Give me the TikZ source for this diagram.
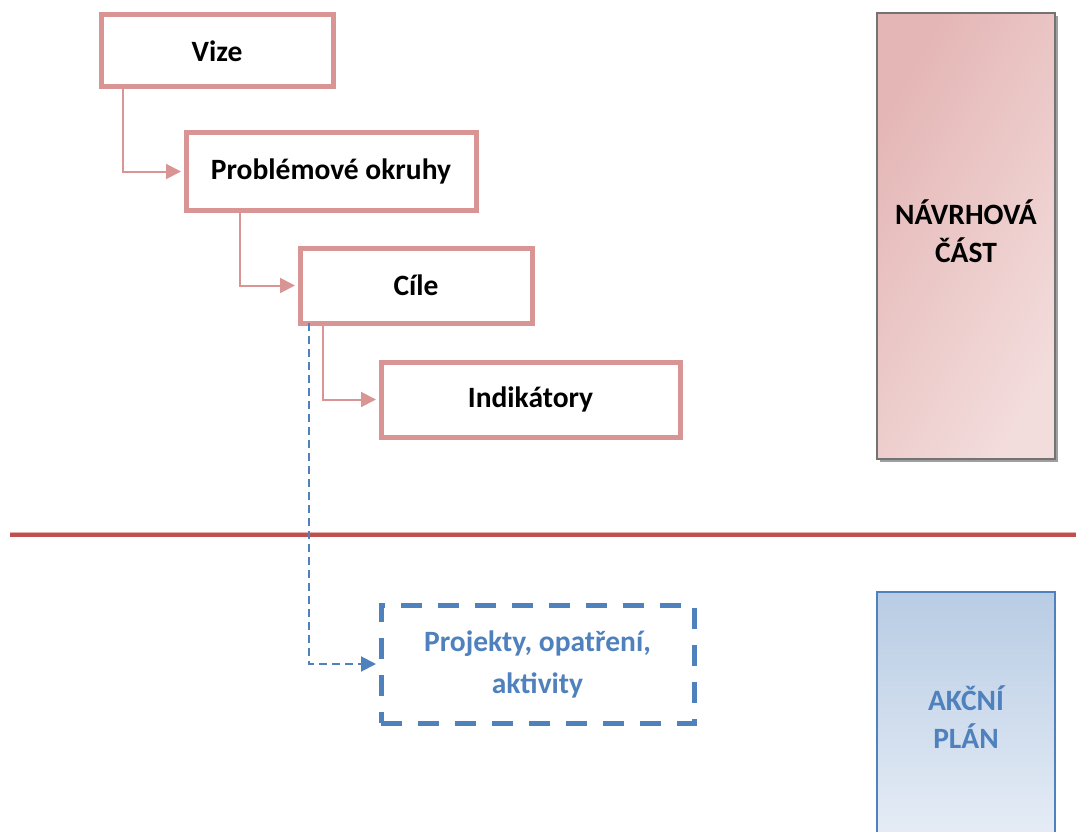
\documentclass[tikz,border=0pt]{standalone}
\usepackage{fontspec}
\setmainfont{Carlito}
\usetikzlibrary{arrows.meta}
\definecolor{pinkb}{HTML}{D99594}
\definecolor{redl}{HTML}{C0504D}
\definecolor{redlight}{HTML}{E6B0AF}
\definecolor{blueb}{HTML}{4F81BD}
\definecolor{navA}{HTML}{E4B6B5}
\definecolor{navB}{HTML}{F3DCDC}
\definecolor{akA}{HTML}{B8CCE4}
\definecolor{akB}{HTML}{E8EEF7}
\begin{document}
\begin{tikzpicture}[x=1pt,y=-1pt,
  txt/.style={font=\fontsize{29.5}{38}\selectfont\bfseries, align=center},
  pbox/.style={draw=pinkb, line width=5pt, fill=white, inner sep=0pt, txt},
  conn/.style={draw=pinkb, line width=2pt, shorten >=2.5pt, -{Triangle[length=15pt,width=15pt]}},
  dconn/.style={draw=blueb, line width=2pt, dash pattern=on 8pt off 5pt, shorten >=2.5pt, -{Triangle[length=15pt,width=15pt]}},
  bbox/.style={draw=blueb, line width=5pt, dash pattern=on 21pt off 16pt, fill=white, inner sep=0pt, txt, text=blueb, font=\fontsize{29.5}{42}\selectfont\bfseries}
]
\useasboundingbox (0,0) rectangle (1076,832);
\clip (0,0) rectangle (1076,832);

% side panels
\fill[gray!75] (880,16) rectangle (1058,462);
\node[draw=gray!90!black, line width=1.5pt, left color=navA, right color=navB, shading angle=60,
      minimum width=178pt, minimum height=446pt, inner sep=0pt] (nav) at (966,236) {};
\node[txt] (navtxt) at (966,231) {NÁVRHOVÁ\\ČÁST};
\node[draw=blueb, line width=1.5pt, top color=akA, bottom color=akB,
      minimum width=178pt, minimum height=258pt, inner sep=0pt] (akc) at (966,721) {};
\node[txt, text=blueb] (akctxt) at (966,717) {AKČNÍ\\PLÁN};

% separator line
\coordinate (sepL) at (10,535);
\coordinate (sepR) at (1076,535);
\draw[redlight, line width=1.5pt] ([yshift=2.5pt]sepL) -- ([yshift=2.5pt]sepR);
\draw[redl, line width=3.5pt] (sepL) -- (sepR);

% boxes
\node[pbox, minimum width=232pt, minimum height=72pt] (vize) at (217,51) {Vize};
\node[pbox, minimum width=290pt, minimum height=77pt] (prob) at (331,171.5) {Problémové okruhy};
\node[pbox, minimum width=232pt, minimum height=75pt] (cile) at (416,285.5) {Cíle};
\node[pbox, minimum width=299pt, minimum height=75pt] (ind) at (530.5,399.5) {Indikátory};
\node[bbox, minimum width=313pt, minimum height=118pt] (proj) at (537.5,664) {Projekty, opatření,\\aktivity};

% connectors
\coordinate (x1) at (123,0);
\coordinate (x2) at (240,0);
\coordinate (x3) at (323,0);
\coordinate (x4) at (309,0);
\draw[conn] (vize.south -| x1) |- (prob.west);
\draw[conn] (prob.south -| x2) |- (cile.west);
\draw[conn] (cile.south -| x3) |- (ind.west);
\draw[dconn] ([yshift=2.5pt]cile.south -| x4) |- (proj.west);
\end{tikzpicture}
\end{document}
